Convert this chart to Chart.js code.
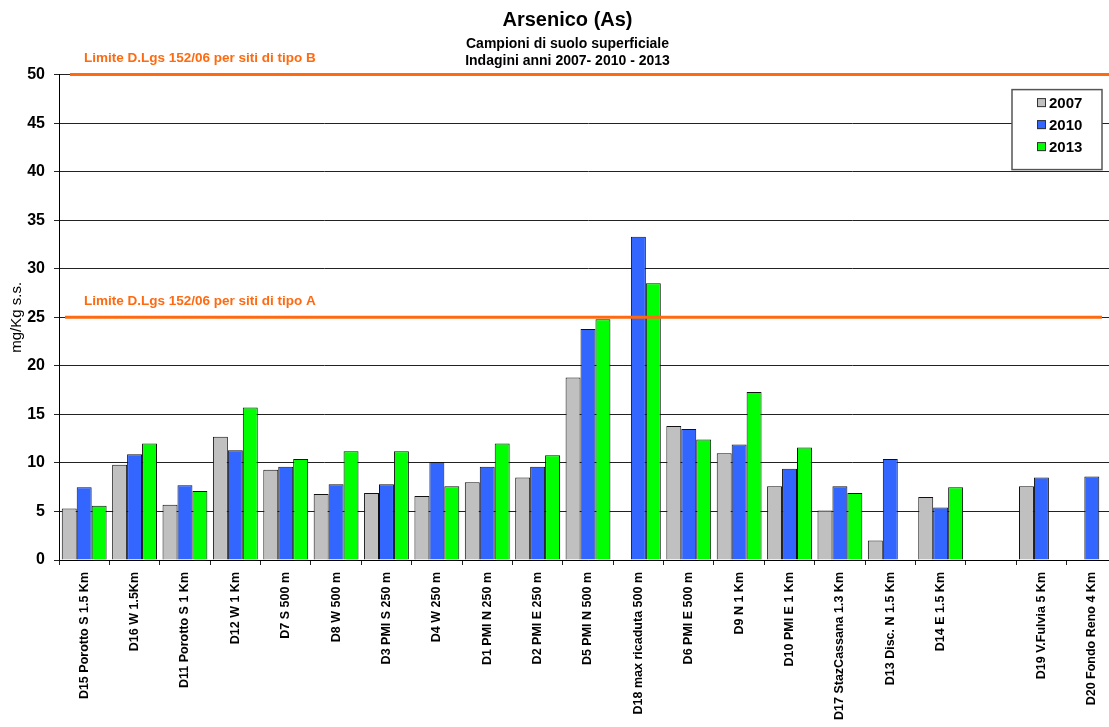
<!DOCTYPE html>
<html>
<head>
<meta charset="utf-8">
<script src="https://cdn.jsdelivr.net/npm/chart.js@4"></script>
<style>
html, body { margin:0; padding:0; background:#fff; overflow:hidden; }
#wrap { position:absolute; left:0; top:0; width:1117px; height:727px; }
</style>
</head>
<body>
<div id="wrap"><canvas id="chart"></canvas></div>
<script>
// stazioni di campionamento (la 19a colonna e' vuota nel grafico originale)
const stazioni = ["D15 Porotto S 1.5 Km","D16 W 1.5Km","D11 Porotto S 1 Km","D12 W 1 Km","D7 S 500 m",
  "D8 W 500 m","D3 PMI S 250 m","D4 W 250 m","D1 PMI N 250 m","D2 PMI E 250 m","D5 PMI N 500 m",
  "D18 max ricaduta 500 m","D6 PMI E 500 m","D9 N 1 Km","D10 PMI E 1 Km","D17 StazCassana 1.3 Km",
  "D13 Disc. N 1.5 Km","D14 E 1.5 Km","","D19 V.Fulvia 5 Km","D20 Fondo Reno 4 Km"]
const anni = ["2007","2010","2013"]
const valori2007 = [5.3, 9.8, 5.7, 12.7, 9.3, 6.8, 6.9, 6.6, 8.0, 8.5, 18.8, null, 13.8, 11.0, 7.6, 5.1, 2.0, 6.5, null, 7.6, null]
const valori2010 = [7.5, 10.9, 7.7, 11.3, 9.6, 7.8, 7.8, 10.1, 9.6, 9.6, 23.8, 33.3, 13.5, 11.9, 9.4, 7.6, 10.4, 5.4, null, 8.5, 8.6]
const valori2013 = [5.6, 12.0, 7.1, 15.7, 10.4, 11.2, 11.2, 7.6, 12.0, 10.8, 24.8, 28.5, 12.4, 17.3, 11.6, 6.9, null, 7.5, null, null, null]
const colori = ["#c0c0c0", "#3366ff", "#00ff00"]
const limitiValori = [50, 25]
const limitiTesti = ["Limite D.Lgs 152/06 per siti di tipo B", "Limite D.Lgs 152/06 per siti di tipo A"]
const yTicks = [0, 5, 10, 15, 20, 25, 30, 35, 40, 45, 50]

const FONT = "'Liberation Sans', Arial, sans-serif"
const ARANCIO = "#ff6a10"

const limitiPlugin = {
  id: "limiti",
  afterDatasetsDraw(chart) {
    const ctx = chart.ctx
    const area = chart.chartArea
    const y = chart.scales.y
    ctx.save()
    for (let i = 0; i < limitiValori.length; i++) {
      const py = y.getPixelForValue(limitiValori[i])
      const x0 = i == 0 ? area.left + 11 : area.left + 6
      const x1 = i == 0 ? area.right : area.right - 15
      ctx.strokeStyle = ARANCIO
      ctx.lineWidth = 3
      ctx.beginPath()
      ctx.moveTo(x0, py)
      ctx.lineTo(x1, py)
      ctx.stroke()
      ctx.fillStyle = ARANCIO
      ctx.font = "bold 13.5px " + FONT
      ctx.textBaseline = "middle"
      ctx.textAlign = "left"
      ctx.fillText(limitiTesti[i], area.left + 25, py - 16)
    }
    ctx.restore()
  },
  afterDraw(chart) {
    // legenda in un riquadro dentro l'area del grafico
    const ctx = chart.ctx
    const area = chart.chartArea
    const top = chart.scales.y.getPixelForValue(50) + 15
    const right = area.right - 15
    const w = 90, h = 80
    const left = right - w
    ctx.save()
    ctx.fillStyle = "#fff"
    ctx.fillRect(left, top, w, h)
    ctx.strokeStyle = "#555"
    ctx.lineWidth = 1.5
    ctx.strokeRect(left, top, w, h)
    ctx.font = "bold 15px " + FONT
    ctx.textBaseline = "middle"
    ctx.textAlign = "left"
    for (let i = 0; i < anni.length; i++) {
      const cy = top + 13 + i * 22
      ctx.fillStyle = colori[i]
      ctx.fillRect(left + 25, cy - 4.5, 9, 9)
      ctx.strokeStyle = "#333"
      ctx.lineWidth = 1
      ctx.strokeRect(left + 25.5, cy - 4, 8, 8)
      ctx.fillStyle = "#000"
      ctx.fillText(anni[i], left + 37, cy + 1)
    }
    ctx.restore()
  }
}

const datasets = [valori2007, valori2010, valori2013].map((v, i) => ({
  label: anni[i],
  data: v,
  backgroundColor: colori[i],
  borderColor: "#111",
  borderWidth: 1,
  borderSkipped: "bottom"
}))

new Chart(document.getElementById("chart"), {
  type: "bar",
  data: { labels: stazioni, datasets: datasets },
  plugins: [limitiPlugin],
  options: {
    responsive: true,
    maintainAspectRatio: false,
    animation: false,
    layout: { padding: { left: 18, right: 0, top: 0, bottom: 0 } },
    datasets: { bar: { categoryPercentage: 0.89, barPercentage: 1 } },
    plugins: {
      legend: { display: false },
      tooltip: { enabled: false },
      title: {
        display: true,
        text: "Arsenico (As)",
        color: "#000",
        font: { family: FONT, size: 20, weight: "bold" },
        padding: { top: 8, bottom: 0 }
      },
      subtitle: {
        display: true,
        text: ["Campioni di suolo superficiale", "Indagini anni 2007- 2010 - 2013"],
        color: "#000",
        font: { family: FONT, size: 14, weight: "bold", lineHeight: 1.2 },
        padding: { top: 4, bottom: 5 }
      }
    },
    scales: {
      x: {
        grid: { display: true, drawOnChartArea: false, drawTicks: true, tickLength: 5, color: "#222", offset: true },
        border: { color: "#000", width: 1 },
        ticks: {
          autoSkip: false, maxRotation: 90, minRotation: 90, padding: 7,
          color: "#000", font: { family: FONT, size: 12.5, weight: "bold" }
        },
        afterFit: (s) => { s.height = 727 - 560 }
      },
      y: {
        min: 0, max: 50,
        afterBuildTicks: (s) => { s.ticks = yTicks.map(v => ({ value: v })) },
        grid: { color: "#222", lineWidth: 1, drawTicks: true, tickLength: 5 },
        border: { color: "#000", width: 1 },
        ticks: { padding: 9, color: "#000", font: { family: FONT, size: 16, weight: "bold" } },
        title: {
          display: true, text: "mg/Kg s.s.", color: "#000",
          font: { family: FONT, size: 15, weight: "normal" },
          padding: { top: -10, bottom: 0 }
        },
        afterFit: (s) => { s.width = 41 }
      }
    }
  }
})
</script>
</body>
</html>
